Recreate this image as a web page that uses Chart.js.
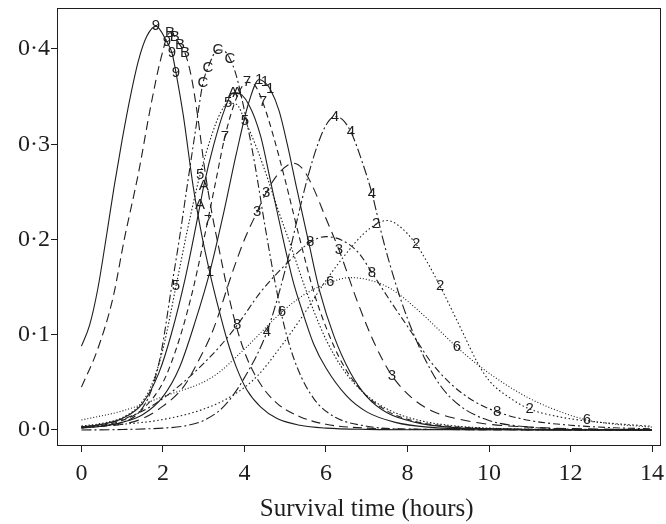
<!DOCTYPE html>
<html lang="en">
<head>
  <meta charset="UTF-8" />
  <title>Survival time densities</title>
  <script src="https://cdn.jsdelivr.net/npm/chart.js"></script>
  <style>
    html, body { margin: 0; padding: 0; background: #fff; }
    #wrap { width: 666px; height: 524px; }
  </style>
</head>
<body>
  <div id="wrap"><canvas id="survChart" width="666" height="524"></canvas></div>

  <script>
    // axis ticks
    const xTicks = [0, 2, 4, 6, 8, 10, 12, 14];
    const yTicks = [0, 0.1, 0.2, 0.3, 0.4];
    const xTitle = 'Survival time (hours)';

    // density curves, [time, density]
    const c9 = [[0,0.088],[0.2,0.11],[0.4,0.148],[0.6,0.2],[0.8,0.255],[1.0,0.305],[1.2,0.35],[1.4,0.388],[1.6,0.413],[1.83,0.424],[2.1,0.407],[2.22,0.396],[2.32,0.375],[2.5,0.33],[2.74,0.256],[2.95,0.205],[3.15,0.165],[3.35,0.13],[3.57,0.095],[3.8,0.066],[4.06,0.042],[4.4,0.024],[4.8,0.012],[5.36,0.005],[6,0.002],[7,0.0007],[9,0.0002],[14,0]];
    const cB = [[0,0.045],[0.4,0.085],[0.78,0.14],[1.05,0.2],[1.4,0.27],[1.7,0.34],[1.95,0.39],[2.17,0.417],[2.29,0.413],[2.42,0.404],[2.54,0.396],[2.7,0.37],[2.85,0.33],[3.03,0.272],[3.2,0.228],[3.4,0.185],[3.7,0.125],[4.0,0.082],[4.38,0.049],[4.8,0.028],[5.36,0.014],[6,0.006],[7,0.002],[9,0.0005],[14,0]];
    const cC = [[0,0.002],[0.5,0.004],[1,0.008],[1.4,0.018],[1.7,0.04],[1.95,0.08],[2.2,0.147],[2.4,0.2],[2.59,0.255],[2.8,0.315],[2.98,0.364],[3.1,0.38],[3.35,0.399],[3.5,0.398],[3.64,0.39],[3.8,0.372],[4.0,0.335],[4.25,0.28],[4.5,0.215],[4.75,0.155],[5.0,0.105],[5.3,0.065],[5.7,0.033],[6.2,0.014],[7,0.004],[8,0.001],[14,0]];
    const c5 = [[0,0.004],[0.5,0.007],[1,0.013],[1.4,0.025],[1.7,0.045],[2.0,0.085],[2.32,0.151],[2.6,0.21],[2.91,0.268],[3.2,0.31],[3.4,0.332],[3.6,0.343],[3.8,0.342],[4.01,0.325],[4.3,0.296],[4.6,0.26],[4.85,0.228],[5.1,0.198],[5.4,0.16],[5.7,0.125],[6.0,0.095],[6.4,0.065],[6.9,0.04],[7.5,0.022],[8.2,0.011],[9,0.005],[10,0.002],[12,0.0005],[14,0]];
    const cA = [[0,0.003],[0.5,0.006],[1,0.012],[1.5,0.028],[1.9,0.06],[2.2,0.1],[2.55,0.16],[2.91,0.236],[3.0,0.256],[3.25,0.3],[3.5,0.335],[3.72,0.354],[3.82,0.354],[4.1,0.342],[4.4,0.308],[4.63,0.263],[4.95,0.2],[5.2,0.155],[5.41,0.126],[5.7,0.09],[6.0,0.065],[6.5,0.036],[7,0.019],[7.7,0.008],[8.5,0.003],[10,0.001],[14,0]];
    const c7 = [[0,0.003],[0.5,0.005],[1,0.01],[1.5,0.022],[2,0.05],[2.4,0.095],[2.75,0.15],[3.1,0.22],[3.3,0.262],[3.52,0.308],[3.8,0.348],[4.06,0.365],[4.25,0.362],[4.45,0.344],[4.7,0.31],[5.0,0.262],[5.36,0.2],[5.7,0.145],[6.0,0.108],[6.4,0.07],[6.9,0.04],[7.5,0.02],[8.2,0.009],[9,0.004],[10.5,0.001],[14,0]];
    const c1 = [[0,0.002],[0.5,0.004],[1,0.008],[1.5,0.016],[2,0.035],[2.4,0.065],[2.8,0.115],[3.15,0.166],[3.5,0.23],[3.8,0.29],[4.1,0.343],[4.36,0.368],[4.5,0.365],[4.63,0.358],[4.85,0.335],[5.05,0.3],[5.29,0.252],[5.56,0.2],[5.85,0.145],[6.2,0.098],[6.6,0.06],[7.0,0.035],[7.5,0.018],[8.2,0.008],[9,0.003],[10.5,0.001],[14,0]];
    const c3 = [[0,0.003],[1,0.006],[1.5,0.012],[2,0.025],[2.5,0.045],[2.9,0.075],[3.23,0.105],[3.7,0.165],[4.0,0.2],[4.31,0.229],[4.53,0.249],[4.85,0.27],[5.2,0.28],[5.45,0.273],[5.68,0.255],[6.0,0.222],[6.32,0.189],[6.76,0.136],[7.2,0.09],[7.62,0.057],[8.1,0.034],[8.6,0.02],[9.3,0.011],[10,0.006],[11,0.003],[12,0.0015],[14,0.0005]];
    const c4 = [[0,0],[1,0.0005],[2,0.002],[2.5,0.004],[3.0,0.01],[3.5,0.025],[4.0,0.055],[4.55,0.103],[5.0,0.168],[5.3,0.222],[5.55,0.265],[5.8,0.3],[6.0,0.32],[6.22,0.329],[6.4,0.326],[6.61,0.313],[6.9,0.28],[7.13,0.248],[7.4,0.2],[7.7,0.155],[8.0,0.117],[8.4,0.077],[8.8,0.047],[9.3,0.025],[10,0.01],[11,0.003],[12,0.001],[14,0]];
    const c8 = [[0,0.003],[0.5,0.006],[1,0.011],[1.5,0.02],[1.93,0.031],[2.5,0.05],[3,0.07],[3.4,0.088],[3.82,0.11],[4.4,0.145],[5.04,0.175],[5.61,0.197],[6.0,0.203],[6.4,0.199],[6.8,0.186],[7.13,0.165],[7.6,0.134],[8.06,0.105],[8.6,0.07],[9.1,0.047],[9.6,0.031],[10.2,0.019],[11,0.01],[12,0.005],[13,0.0025],[14,0.0012]];
    const c2 = [[0,0.004],[1,0.006],[2,0.011],[3,0.022],[3.7,0.036],[4.3,0.056],[4.9,0.088],[5.4,0.118],[6.0,0.157],[6.51,0.186],[6.9,0.205],[7.23,0.216],[7.5,0.22],[7.8,0.214],[8.21,0.195],[8.5,0.175],[8.8,0.151],[9.1,0.125],[9.36,0.102],[9.7,0.072],[10.0,0.052],[10.5,0.034],[11.0,0.022],[11.7,0.014],[12.5,0.009],[13.3,0.006],[14,0.004]];
    const c6 = [[0,0.0105],[1,0.02],[2,0.035],[3.23,0.056],[4.0,0.085],[4.92,0.124],[5.5,0.143],[6.1,0.155],[6.6,0.16],[7.1,0.157],[7.6,0.148],[8.2,0.128],[8.7,0.108],[9.21,0.087],[9.8,0.066],[10.4,0.048],[11,0.033],[11.7,0.02],[12.4,0.0105],[13,0.0065],[14,0.003]];

    // times at which each curve carries its tag
    const lab9 = [1.83, 2.1, 2.22, 2.32];
    const labB = [2.17, 2.29, 2.42, 2.54];
    const labC = [2.98, 3.1, 3.35, 3.64];
    const lab5 = [2.32, 2.91, 3.6, 4.01];
    const labA = [2.91, 3.0, 3.72, 3.82];
    const lab7 = [3.1, 3.52, 4.06, 4.45];
    const lab1 = [3.15, 4.36, 4.5, 4.63];
    const lab3 = [4.31, 4.53, 6.32, 7.62];
    const lab4 = [4.55, 6.22, 6.61, 7.13];
    const lab8 = [3.82, 5.61, 7.13, 10.2];
    const lab2 = [7.23, 8.21, 8.8, 11.0];
    const lab6 = [4.92, 6.1, 9.21, 12.4];

    const curves = [
      { tag: '9', pts: c9, at: lab9, dash: [] },
      { tag: 'B', pts: cB, at: labB, dash: [9, 5] },
      { tag: 'C', pts: cC, at: labC, dash: [8, 3, 2, 3] },
      { tag: '5', pts: c5, at: lab5, dash: [1.5, 2] },
      { tag: 'A', pts: cA, at: labA, dash: [] },
      { tag: '7', pts: c7, at: lab7, dash: [6, 4] },
      { tag: '1', pts: c1, at: lab1, dash: [] },
      { tag: '3', pts: c3, at: lab3, dash: [10, 6] },
      { tag: '4', pts: c4, at: lab4, dash: [10, 3, 2, 3] },
      { tag: '8', pts: c8, at: lab8, dash: [7, 3, 2, 3] },
      { tag: '2', pts: c2, at: lab2, dash: [1.5, 2.5] },
      { tag: '6', pts: c6, at: lab6, dash: [1, 2] }
    ];

    const ink = '#1e1e1e';
    const serif = '"Liberation Serif", "Times New Roman", serif';

    // density at time t, straight from the point list
    function densityAt(pts, t) {
      for (let i = 0; i < pts.length - 1; i++) {
        const [x0, y0] = pts[i], [x1, y1] = pts[i + 1];
        if (t >= x0 && t <= x1) return y0 + (y1 - y0) * (t - x0) / (x1 - x0);
      }
      return 0;
    }

    // curve tags written on top of the lines
    const curveTags = {
      id: 'curveTags',
      afterDatasetsDraw(chart) {
        const { ctx, scales: { x, y } } = chart;
        ctx.save();
        ctx.font = '15px "Liberation Sans", Arial, sans-serif';
        ctx.fillStyle = ink;
        ctx.textAlign = 'center';
        ctx.textBaseline = 'middle';
        curves.forEach(c => {
          c.at.forEach(t => {
            ctx.fillText(c.tag, x.getPixelForValue(t), y.getPixelForValue(densityAt(c.pts, t)));
          });
        });
        ctx.restore();
      }
    };

    // box round the plotting region, axis title centred under the tick range
    const frame = {
      id: 'frame',
      afterDraw(chart) {
        const a = chart.chartArea;
        const ctx = chart.ctx;
        const x = chart.scales.x;
        ctx.save();
        ctx.strokeStyle = ink;
        ctx.lineWidth = 1;
        ctx.strokeRect(Math.round(a.left) + 0.5, Math.round(a.top) + 0.5,
                       Math.round(a.right - a.left) - 1, Math.round(a.bottom - a.top) - 1);
        ctx.font = '25px ' + serif;
        ctx.fillStyle = ink;
        ctx.textAlign = 'center';
        ctx.textBaseline = 'middle';
        const mid = (xTicks[0] + xTicks[xTicks.length - 1]) / 2;
        ctx.fillText(xTitle, x.getPixelForValue(mid), 509);
        ctx.restore();
      }
    };

    const ctx = document.getElementById('survChart').getContext('2d');
    new Chart(ctx, {
      type: 'line',
      data: {
        datasets: curves.map(c => ({
          label: c.tag,
          data: c.pts.map(([x, y]) => ({ x, y })),
          borderColor: ink,
          borderWidth: 1.1,
          borderDash: c.dash,
          pointRadius: 0,
          fill: false,
          tension: 0.4,
          cubicInterpolationMode: 'monotone'
        }))
      },
      options: {
        responsive: false,
        animation: false,
        devicePixelRatio: 1,
        layout: { padding: { top: 8, right: 5, left: 0, bottom: 0 } },
        plugins: { legend: { display: false }, tooltip: { enabled: false } },
        scales: {
          x: {
            type: 'linear',
            min: -0.6,
            max: 14.22,
            afterBuildTicks: s => { s.ticks = xTicks.map(v => ({ value: v })); },
            afterFit: s => { s.height = 78; s.paddingLeft = 0; s.paddingRight = 0; },
            border: { display: false },
            grid: { drawOnChartArea: false, drawTicks: true, tickLength: 6, color: ink },
            ticks: { color: ink, padding: 7, font: { family: serif, size: 24 }, maxRotation: 0 }
          },
          y: {
            min: -0.0168,
            max: 0.443,
            afterBuildTicks: s => { s.ticks = yTicks.map(v => ({ value: v })); },
            afterFit: s => { s.width = 57; s.paddingTop = 0; s.paddingBottom = 0; },
            border: { display: false },
            grid: { drawOnChartArea: false, drawTicks: true, tickLength: 6, color: ink },
            ticks: {
              color: ink,
              padding: 1,
              font: { family: serif, size: 24 },
              callback: v => v.toFixed(1).replace('.', '\u00B7')
            }
          }
        }
      },
      plugins: [curveTags, frame]
    });
  </script>
</body>
</html>
